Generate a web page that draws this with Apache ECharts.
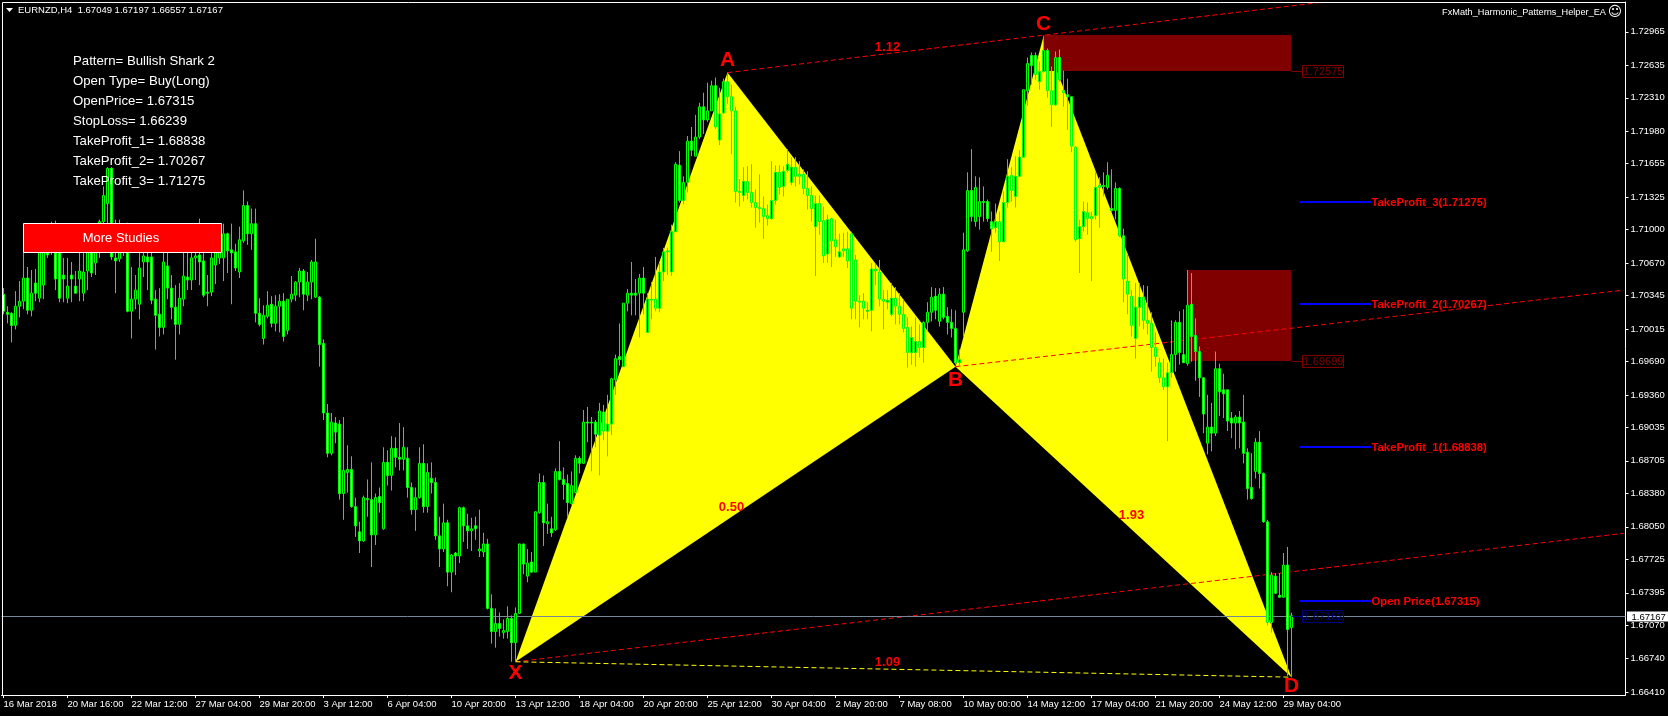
<!DOCTYPE html>
<html><head><meta charset="utf-8">
<style>html,body{margin:0;padding:0;background:#000}#c{width:1668px;height:716px}</style>
<script src="https://cdn.jsdelivr.net/npm/echarts@6/dist/echarts.min.js"></script>
</head><body><div id="c"></div>
<script>
// H4 EURNZD bars
var opens=[
1.7036,1.7018,1.7017,1.7005,1.7024,1.7029,1.7052,1.7020,1.7047,1.7032,
1.7045,1.7085,1.7080,1.7090,1.7080,1.7055,1.7032,1.7055,1.7044,1.7051,
1.7037,1.7059,1.7085,1.7067,1.7090,1.7108,1.7126,1.7161,1.7072,1.7071,
1.7078,1.7097,1.7019,1.7031,1.7026,1.7068,1.7073,1.7073,1.7031,1.7016,
1.7003,1.7064,1.7042,1.7023,1.7006,1.7031,1.7053,1.7050,1.7072,1.7075,
1.7069,1.7038,1.7038,1.7065,1.7072,1.7072,1.7096,1.7080,1.7078,1.7058,
1.7089,1.7124,1.7096,1.7106,1.7017,1.6992,1.7014,1.7026,1.7007,1.7024,
1.7029,1.7000,1.7031,1.7035,1.7048,1.7059,1.7035,1.7048,1.7033,1.7033,
1.6987,1.6918,1.6878,1.6908,1.6907,1.6838,1.6859,1.6862,1.6825,1.6800,
1.6791,1.6833,1.6832,1.6797,1.6835,1.6803,1.6869,1.6856,1.6883,1.6874,
1.6872,1.6873,1.6844,1.6822,1.6834,1.6868,1.6825,1.6853,1.6849,1.6796,
1.6783,1.6809,1.6760,1.6779,1.6776,1.6824,1.6806,1.6801,1.6806,1.6781,
1.6780,1.6788,1.6724,1.6701,1.6709,1.6700,1.6701,1.6714,1.6690,1.6719,
1.6788,1.6756,1.6770,1.6760,1.6819,1.6849,1.6808,1.6803,1.6802,1.6860,
1.6852,1.6848,1.6828,1.6839,1.6873,1.6868,1.6909,1.6909,1.6909,1.6896,
1.6919,1.6900,1.6907,1.6951,1.6974,1.6964,1.7027,1.7037,1.7037,1.7037,
1.7052,1.6998,1.7031,1.7031,1.7022,1.7058,1.7079,1.7058,1.7098,1.7164,
1.7129,1.7147,1.7188,1.7173,1.7192,1.7222,1.7209,1.7218,1.7243,1.7189,
1.7216,1.7247,1.7232,1.7218,1.7138,1.7134,1.7148,1.7137,1.7127,1.7122,
1.7121,1.7114,1.7111,1.7129,1.7157,1.7143,1.7159,1.7147,1.7162,1.7155,
1.7155,1.7141,1.7134,1.7103,1.7126,1.7109,1.7076,1.7111,1.7090,1.7073,
1.7081,1.7081,1.7096,1.7070,1.7029,1.7029,1.7019,1.7020,1.7061,1.7058,
1.7031,1.7028,1.7016,1.7032,1.7024,1.7016,1.7003,1.6978,1.6978,1.6989,
1.6983,1.7008,1.7018,1.7034,1.7009,1.7036,1.7014,1.7008,1.7002,1.6968,
1.7018,1.7079,1.7139,1.7108,1.7113,1.7128,1.7128,1.7108,1.7102,1.7108,
1.7088,1.7127,1.7154,1.7133,1.7153,1.7172,1.7238,1.7273,1.7273,1.7247,
1.7257,1.7278,1.7238,1.7224,1.7271,1.7238,1.7234,1.7232,1.7182,1.7091,
1.7103,1.7117,1.7113,1.7114,1.7144,1.7144,1.7142,1.7121,1.7119,1.7141,
1.7094,1.7049,1.7034,1.6992,1.7023,1.7033,1.7010,1.7007,1.6983,1.6968,
1.6953,1.6944,1.6958,1.6976,1.7008,1.6976,1.6967,1.7026,1.6995,1.6979,
1.6953,1.6888,1.6904,1.6898,1.6962,1.6941,1.6941,1.6913,1.6908,1.6914,
1.6909,1.6879,1.6844,1.6860,1.6889,1.6858,1.6810,1.6710,1.6756,1.6737,
1.6735,1.6767,1.67049];
var closes=[
1.7019,1.7016,1.7005,1.7024,1.7029,1.7052,1.7020,1.7037,1.7037,1.7080,
1.7085,1.7075,1.7090,1.7051,1.7032,1.7051,1.7044,1.7051,1.7037,1.7059,
1.7058,1.7080,1.7057,1.7085,1.7108,1.7134,1.7161,1.7073,1.7069,1.7078,
1.7085,1.7019,1.7031,1.7040,1.7062,1.7074,1.7068,1.7030,1.7015,1.7003,
1.7068,1.7042,1.7023,1.7006,1.7032,1.7054,1.7050,1.7072,1.7074,1.7068,
1.7035,1.7037,1.7072,1.7078,1.7080,1.7096,1.7079,1.7077,1.7062,1.7090,
1.7124,1.7096,1.7106,1.7017,1.7006,1.7015,1.7025,1.7007,1.7024,1.7029,
1.6994,1.7031,1.7036,1.7048,1.7059,1.7036,1.7048,1.7068,1.7068,1.6986,
1.6918,1.6878,1.6909,1.6899,1.6838,1.6861,1.6862,1.6825,1.6806,1.6791,
1.6834,1.6832,1.6797,1.6834,1.6829,1.6869,1.6856,1.6883,1.6874,1.6872,
1.6884,1.6844,1.6822,1.6834,1.6868,1.6825,1.6859,1.6849,1.6796,1.6783,
1.6809,1.6760,1.6777,1.6776,1.6824,1.6806,1.6801,1.6803,1.6803,1.6783,
1.6788,1.6724,1.6701,1.6709,1.6704,1.6702,1.6714,1.6690,1.6719,1.6788,
1.6768,1.6769,1.6760,1.6820,1.6849,1.6809,1.6810,1.6799,1.6860,1.6852,
1.6847,1.6829,1.6846,1.6873,1.6868,1.6909,1.6908,1.6908,1.6897,1.6920,
1.6900,1.6907,1.6952,1.6972,1.6971,1.7027,1.7037,1.7035,1.7035,1.7052,
1.7037,1.7031,1.7030,1.7022,1.7058,1.7078,1.7078,1.7098,1.7165,1.7129,
1.7147,1.7188,1.7179,1.7192,1.7222,1.7209,1.7218,1.7243,1.7202,1.7215,
1.7247,1.7232,1.7218,1.7138,1.7137,1.7148,1.7137,1.7127,1.7122,1.7121,
1.7113,1.7111,1.7129,1.7157,1.7142,1.7158,1.7165,1.7162,1.7153,1.7153,
1.7141,1.7134,1.7121,1.7126,1.7108,1.7074,1.7110,1.7089,1.7083,1.7078,
1.7079,1.7069,1.7022,1.7029,1.7028,1.7022,1.7020,1.7061,1.7059,1.7031,
1.7029,1.7030,1.7032,1.7024,1.7016,1.7002,1.6978,1.6993,1.6989,1.6983,
1.7008,1.7018,1.7033,1.7020,1.7036,1.7013,1.7008,1.7002,1.6968,1.6971,
1.7080,1.7139,1.7113,1.7142,1.7128,1.7127,1.7111,1.7101,1.7108,1.7088,
1.7127,1.7153,1.7139,1.7153,1.7172,1.7239,1.7265,1.7263,1.7254,1.7257,
1.7278,1.7238,1.7224,1.7271,1.7249,1.7236,1.7232,1.7183,1.7090,1.7103,
1.7118,1.7111,1.7111,1.7142,1.7142,1.7143,1.7154,1.7119,1.7141,1.7094,
1.7051,1.7036,1.7005,1.7023,1.7033,1.7010,1.7007,1.6983,1.6974,1.6953,
1.6944,1.6958,1.6976,1.7008,1.6978,1.6968,1.7025,1.6994,1.6979,1.6953,
1.6917,1.6904,1.6898,1.6962,1.6939,1.6937,1.6910,1.6908,1.6914,1.6908,
1.6878,1.6843,1.6833,1.6889,1.6858,1.6810,1.6710,1.6757,1.6739,1.6735,
1.6767,1.6703,1.67167];
var highs=[
1.7042,1.7024,1.7018,1.7039,1.7049,1.7078,1.7063,1.7060,1.7061,1.7090,
1.7095,1.7095,1.7108,1.7109,1.7085,1.7072,1.7072,1.7068,1.7059,1.7085,
1.7082,1.7090,1.7092,1.7098,1.7110,1.7143,1.7162,1.7162,1.7110,1.7110,
1.7097,1.7107,1.7063,1.7055,1.7078,1.7085,1.7090,1.7077,1.7040,1.7042,
1.7080,1.7080,1.7055,1.7045,1.7047,1.7078,1.7078,1.7080,1.7080,1.7111,
1.7078,1.7055,1.7077,1.7095,1.7106,1.7106,1.7097,1.7106,1.7086,1.7103,
1.7139,1.7128,1.7121,1.7121,1.7032,1.7025,1.7039,1.7034,1.7035,1.7036,
1.7037,1.7031,1.7054,1.7049,1.7062,1.7061,1.7058,1.7070,1.7091,1.7034,
1.6991,1.6927,1.6918,1.6914,1.6911,1.6914,1.6886,1.6875,1.6834,1.6810,
1.6836,1.6852,1.6869,1.6838,1.6844,1.6884,1.6881,1.6895,1.6894,1.6908,
1.6904,1.6884,1.6849,1.6844,1.6884,1.6887,1.6868,1.6869,1.6854,1.6815,
1.6828,1.6812,1.6778,1.6780,1.6825,1.6825,1.6818,1.6814,1.6815,1.6822,
1.6799,1.6793,1.6738,1.6724,1.6720,1.6713,1.6726,1.6717,1.6725,1.6788,
1.6788,1.6783,1.6780,1.6820,1.6858,1.6856,1.6828,1.6815,1.6863,1.6890,
1.6864,1.6857,1.6860,1.6876,1.6875,1.6921,1.6924,1.6914,1.6911,1.6928,
1.6926,1.6936,1.6953,1.6976,1.7007,1.7027,1.7041,1.7068,1.7051,1.7056,
1.7063,1.7037,1.7048,1.7073,1.7067,1.7082,1.7082,1.7105,1.7167,1.7178,
1.7153,1.7193,1.7202,1.7214,1.7226,1.7236,1.7246,1.7248,1.7251,1.7241,
1.7250,1.7256,1.7244,1.7222,1.7150,1.7162,1.7163,1.7165,1.7140,1.7155,
1.7133,1.7125,1.7168,1.7164,1.7164,1.7163,1.7180,1.7172,1.7172,1.7168,
1.7160,1.7158,1.7143,1.7134,1.7134,1.7123,1.7115,1.7112,1.7110,1.7096,
1.7097,1.7098,1.7098,1.7075,1.7035,1.7037,1.7028,1.7067,1.7066,1.7070,
1.7040,1.7040,1.7047,1.7043,1.7037,1.7031,1.7013,1.7004,1.7013,1.7006,
1.7009,1.7028,1.7043,1.7042,1.7042,1.7043,1.7023,1.7021,1.7020,1.6981,
1.7097,1.7157,1.7180,1.7153,1.7152,1.7143,1.7130,1.7118,1.7126,1.7118,
1.7138,1.7170,1.7162,1.7173,1.7179,1.7239,1.7271,1.7276,1.7276,1.7267,
1.7292,1.7280,1.7262,1.7277,1.7279,1.7258,1.7250,1.7232,1.7183,1.7110,
1.7128,1.7127,1.7118,1.7157,1.7152,1.7157,1.7167,1.7160,1.7147,1.7142,
1.7101,1.7075,1.7040,1.7047,1.7047,1.7045,1.7044,1.7018,1.6998,1.6973,
1.6972,1.6968,1.7010,1.7010,1.7019,1.7021,1.7060,1.7057,1.7012,1.6984,
1.6953,1.6936,1.6928,1.6979,1.6967,1.6957,1.6941,1.6919,1.6916,1.6920,
1.6936,1.6883,1.6878,1.6893,1.6900,1.6859,1.6812,1.6760,1.6759,1.6759,
1.6779,1.6785,1.67197];
var lows=[
1.7016,1.7007,1.6988,1.7001,1.7013,1.7021,1.7016,1.7014,1.7029,1.7028,
1.7031,1.7072,1.7075,1.7040,1.7028,1.7028,1.7027,1.7028,1.7037,1.7029,
1.7029,1.7040,1.7053,1.7055,1.7072,1.7085,1.7100,1.7070,1.7037,1.7068,
1.7074,1.7018,1.6992,1.7021,1.7011,1.7053,1.7040,1.7026,1.6981,1.6994,
1.6996,1.7031,1.7011,1.6971,1.6996,1.7024,1.7040,1.7040,1.7050,1.7045,
1.7033,1.7024,1.7034,1.7046,1.7066,1.7049,1.7057,1.7026,1.7059,1.7052,
1.7087,1.7085,1.7080,1.7008,1.7004,1.6986,1.7012,1.7003,1.6999,1.6998,
1.6989,1.6996,1.7028,1.7029,1.7033,1.7020,1.7029,1.7031,1.7032,1.6964,
1.6911,1.6874,1.6876,1.6888,1.6832,1.6812,1.6839,1.6824,1.6795,1.6779,
1.6790,1.6815,1.6765,1.6787,1.6819,1.6802,1.6846,1.6841,1.6864,1.6861,
1.6861,1.6834,1.6817,1.6801,1.6833,1.6819,1.6819,1.6838,1.6792,1.6765,
1.6780,1.6746,1.6740,1.6757,1.6769,1.6790,1.6783,1.6781,1.6792,1.6775,
1.6775,1.6723,1.6689,1.6685,1.6696,1.6694,1.6694,1.6671,1.6671,1.6719,
1.6758,1.6750,1.6760,1.6760,1.6818,1.6786,1.6798,1.6795,1.6801,1.6851,
1.6832,1.6815,1.6827,1.6838,1.6858,1.6868,1.6889,1.6860,1.6884,1.6856,
1.6891,1.6875,1.6896,1.6936,1.6965,1.6964,1.7019,1.7015,1.7015,1.6993,
1.7016,1.6998,1.7011,1.7019,1.7018,1.7049,1.7055,1.7054,1.7098,1.7127,
1.7125,1.7137,1.7173,1.7173,1.7190,1.7195,1.7207,1.7218,1.7200,1.7184,
1.7215,1.7225,1.7175,1.7127,1.7123,1.7128,1.7130,1.7122,1.7102,1.7107,
1.7091,1.7104,1.7110,1.7125,1.7135,1.7133,1.7157,1.7144,1.7143,1.7145,
1.7135,1.7120,1.7108,1.7054,1.7095,1.7067,1.7067,1.7063,1.7073,1.7072,
1.7073,1.7062,1.7011,1.7011,1.7003,1.7011,1.7011,1.6999,1.7045,1.7024,
1.7001,1.7021,1.7014,1.7006,1.7006,1.6998,1.6963,1.6966,1.6964,1.6973,
1.6968,1.6999,1.7009,1.7011,1.7004,1.7011,1.6996,1.6993,1.6966,1.6964,
1.6994,1.7078,1.7108,1.7103,1.7100,1.7108,1.7108,1.7078,1.7097,1.7069,
1.7088,1.7122,1.7128,1.7122,1.7152,1.7172,1.7223,1.7244,1.7249,1.7239,
1.7256,1.7231,1.7202,1.7223,1.7247,1.7222,1.7199,1.7177,1.7088,1.7057,
1.7098,1.7095,1.7049,1.7110,1.7102,1.7133,1.7140,1.7118,1.7110,1.7093,
1.7028,1.7016,1.6994,1.6972,1.7004,1.7001,1.6996,1.6959,1.6964,1.6948,
1.6941,1.6890,1.6953,1.6959,1.6966,1.6968,1.6965,1.6969,1.6950,1.6934,
1.6898,1.6877,1.6880,1.6895,1.6915,1.6913,1.6900,1.6893,1.6882,1.6883,
1.6868,1.6832,1.6832,1.6853,1.6843,1.6809,1.6707,1.6700,1.6739,1.6735,
1.6735,1.6657,1.66557];

var xTickLabels=["16 Mar 2018","20 Mar 16:00","22 Mar 12:00","27 Mar 04:00","29 Mar 20:00","3 Apr 12:00","6 Apr 04:00","10 Apr 20:00","13 Apr 12:00","18 Apr 04:00","20 Apr 20:00","25 Apr 12:00","30 Apr 04:00","2 May 20:00","7 May 08:00","10 May 00:00","14 May 12:00","17 May 04:00","21 May 20:00","24 May 12:00","29 May 04:00"];
var yTicks=[1.72965,1.72635,1.72310,1.71980,1.71655,1.71325,1.71000,1.70670,1.70345,1.70015,1.69690,1.69360,1.69035,1.68705,1.68380,1.68050,1.67725,1.67395,1.67070,1.66740,1.66410];

// harmonic pattern pivots X A B C D
var pivotBars=[128,181,238,260,322];
var pivotPrices=[1.6671,1.7256,1.6964,1.7292,1.66557];
var pivotNames=["X","A","B","C","D"];
var pivotLabelPrices=[1.66598,1.72685,1.69508,1.73043,1.66470];
var ratioNames=["1.12","1.09","0.50","1.93"];
var ratioBars=[221,221,182,282];
var ratioPrices=[1.72811,1.66707,1.68241,1.68167];
var zoneTops=[1.72930,1.70604];
var zoneBottoms=[1.72575,1.69699];
var zoneStartBars=[260,296];
var levelNames=["TakeProfit_3","TakeProfit_2","TakeProfit_1","Open Price"];
var levelPrices=[1.71275,1.70267,1.68838,1.67315];
var tagPrices=[1.72575,1.69699,1.67162];
var lastPrice=1.67167;
var infoLines=["Pattern= Bullish Shark 2","Open Type= Buy(Long)","OpenPrice= 1.67315","StopLoss= 1.66239","TakeProfit_1= 1.68838","TakeProfit_2= 1.70267","TakeProfit_3= 1.71275"];
var headerText="EURNZD,H4  1.67049 1.67197 1.66557 1.67167";
var eaName="FxMath_Harmonic_Patterns_Helper_EA";

// red dashed channel lines, yellow X-D line: [startBar,startPrice,endBar,endPrice]
var redLines=[[181,1.7256,330,1.7326],[128,1.6671,405,1.67985],[238,1.6964,405,1.7040]];
var yellowLine=[128,1.6671,322,1.66557];

var BAR_SLOTS=406, LAST=322;
var categories=[];
for(var n=0;n<BAR_SLOTS;n++){categories.push(n%16===0&&n/16<xTickLabels.length?xTickLabels[n/16]:"");}
var candles=opens.map(function(o,i){return [o,closes[i],lows[i],highs[i]];});

var FONT='"Liberation Sans",Arial,sans-serif';
var chart=echarts.init(document.getElementById('c'),null,{renderer:'canvas'});

function triangle(params,api){
  var k=params.dataIndex*2;
  var pts=[k,k+1,k+2].map(function(j){return api.coord([pivotBars[j],pivotPrices[j]]);});
  return {type:'polygon',shape:{points:pts},style:{fill:'#ffff00'}};
}
function zone(params,api){
  var i=params.dataIndex;
  var a=api.coord([zoneStartBars[i],zoneTops[i]]), b=api.coord([LAST,zoneBottoms[i]]);
  return {type:'rect',shape:{x:Math.round(a[0])-1,y:Math.round(a[1]),width:Math.round(b[0]-a[0]),height:Math.round(b[1]-a[1])},style:{fill:'#800000',blend:'difference'}};
}
function segment(list,color){return function(params,api){
  var l=list[params.dataIndex];
  var a=api.coord([l[0],l[1]]), b=api.coord([l[2],l[3]]);
  return {type:'line',shape:{x1:a[0],y1:a[1],x2:b[0],y2:b[1]},style:{stroke:color,lineWidth:1,lineDash:[5,3]}};
};}
function textAt(bars,prices,names,font){return function(params,api){
  var i=params.dataIndex, p=api.coord([bars[i],prices[i]]);
  return {type:'text',style:{text:names[i],x:p[0],y:p[1],fill:'#ff0000',font:font,align:'center',verticalAlign:'middle'}};
};}
function level(params,api){
  var i=params.dataIndex;
  var a=api.coord([324,levelPrices[i]]), b=api.coord([342,levelPrices[i]]);
  var y=Math.round(a[1]);
  return {type:'group',children:[
    {type:'rect',shape:{x:a[0],y:y-1,width:b[0]-a[0],height:2},style:{fill:'#0000ff'}},
    {type:'text',style:{text:levelNames[i]+'('+levelPrices[i].toFixed(5)+')',x:b[0],y:y+0.5,fill:'#ff0000',font:'bold 11.3px '+FONT,align:'left',verticalAlign:'middle'}}
  ]};
}
function tag(params,api){
  var i=params.dataIndex, p=api.coord([LAST,tagPrices[i]]);
  var col=i===2?'#000080':'#800000';
  var x=p[0]+11, y=Math.round(p[1])+0.5;
  return {type:'group',children:[
    {type:'line',shape:{x1:p[0],y1:y,x2:x,y2:y},style:{stroke:col,lineWidth:1}},
    {type:'rect',shape:{x:x,y:y-6,width:41,height:12},style:{fill:'rgba(0,0,0,0)',stroke:col,lineWidth:1}},
    {type:'text',style:{text:tagPrices[i].toFixed(5),x:x+21,y:y+0.5,fill:col,font:'11px '+FONT,align:'center',verticalAlign:'middle'}}
  ]};
}
function priceLine(params,api){
  var g=params.coordSys, y=Math.round(api.coord([0,lastPrice])[1])+0.5;
  return {type:'line',shape:{x1:g.x,y1:y,x2:g.x+g.width,y2:y},style:{stroke:'#778899',lineWidth:1}};
}
function priceTag(params,api){
  var g=params.coordSys, y=Math.round(api.coord([0,lastPrice])[1])+0.5, x=Math.ceil(g.x+g.width)+1;
  return {type:'group',children:[
    {type:'rect',shape:{x:x,y:y-5,width:42,height:10},style:{fill:'#fff'}},
    {type:'text',style:{text:lastPrice.toFixed(5),x:x+4.5,y:y+0.5,fill:'#000',font:'9.5px '+FONT,align:'left',verticalAlign:'middle'}}
  ]};
}
function customSeries(count,render,z){
  var d=[];for(var i=0;i<count;i++)d.push([i]);
  return {type:'custom',coordinateSystem:'cartesian2d',data:d,renderItem:render,silent:true,z:z,animation:false,encode:{x:0}};
}

var graphics=[
  {type:'line',shape:{x1:2.5,y1:2.5,x2:1625.5,y2:2.5},style:{stroke:'#fff',lineWidth:1},z:40},
  {type:'line',shape:{x1:2.5,y1:2.5,x2:2.5,y2:695.5},style:{stroke:'#fff',lineWidth:1},z:40},
  {type:'polygon',shape:{points:[[6,8],[13,8],[9.5,12]]},style:{fill:'#fff'},z:50},
  {type:'text',style:{text:headerText,x:18,y:10.5,fill:'#fff',font:'9.5px '+FONT,verticalAlign:'middle'},z:50},
  {type:'text',style:{text:eaName,x:1606,y:12,fill:'#fff',font:'9.2px '+FONT,align:'right',verticalAlign:'middle'},z:50},
  {type:'text',style:{text:'\u263A',x:1615,y:12,fill:'#fff',font:'14px "DejaVu Sans"',align:'center',verticalAlign:'middle'},z:50},
  {type:'rect',shape:{x:23.5,y:223.5,width:198,height:29},style:{fill:'#ff0000',stroke:'#fff',lineWidth:1},z:50},
  {type:'text',style:{text:'More Studies',x:121,y:238.5,fill:'#fff',font:'13px '+FONT,align:'center',verticalAlign:'middle'},z:51}
];
infoLines.forEach(function(t,i){
  graphics.push({type:'text',style:{text:t,x:73,y:61.5+20*i,fill:'#fff',font:'13.2px '+FONT,verticalAlign:'middle'},z:50});
});

chart.setOption({
  animation:false,
  backgroundColor:'#000',
  grid:{left:1.5,top:2,width:1624,height:693,outerBoundsMode:'none',containLabel:false,show:false},
  xAxis:{type:'category',data:categories,boundaryGap:true,
    axisLine:{show:true,lineStyle:{color:'#fff'}},
    axisTick:{show:true,alignWithLabel:true,length:3,lineStyle:{color:'#fff'},interval:function(i,v){return v!=='';}},
    axisLabel:{color:'#fff',fontFamily:FONT,fontSize:9.5,align:'left',margin:4,hideOverlap:false,showMinLabel:true,interval:function(i,v){return v!=='';}},
    splitLine:{show:false}},
  yAxis:{type:'value',position:'right',min:1.66380,max:1.73261,scale:true,
    axisLine:{show:true,onZero:false,lineStyle:{color:'#fff'}},
    axisTick:{show:true,length:3,lineStyle:{color:'#fff'},customValues:yTicks},
    axisLabel:{color:'#fff',fontFamily:FONT,fontSize:9.5,margin:5,showMinLabel:true,showMaxLabel:true,customValues:yTicks,formatter:function(v){return v.toFixed(5);}},
    splitLine:{show:false}},
  graphic:graphics,
  series:[
    customSeries(2,triangle,1),
    customSeries(zoneTops.length,zone,2),
    customSeries(redLines.length,segment(redLines,'#ff0000'),3),
    customSeries(1,segment([yellowLine],'#ffff00'),3),
    customSeries(1,priceLine,4),
    {type:'candlestick',data:candles,barWidth:2,z:5,silent:true,clip:false,
      itemStyle:{color:'#000',color0:'#fff',borderColor:'#00ff00',borderColor0:'#00ff00',borderWidth:1}},
    customSeries(levelPrices.length,level,6),
    customSeries(tagPrices.length,tag,6),
    customSeries(1,priceTag,6),
    customSeries(pivotNames.length,textAt(pivotBars,pivotLabelPrices,pivotNames,'bold 21px '+FONT),7),
    customSeries(ratioNames.length,textAt(ratioBars,ratioPrices,ratioNames,'bold 13px '+FONT),7)
  ]
});
</script></body></html>
